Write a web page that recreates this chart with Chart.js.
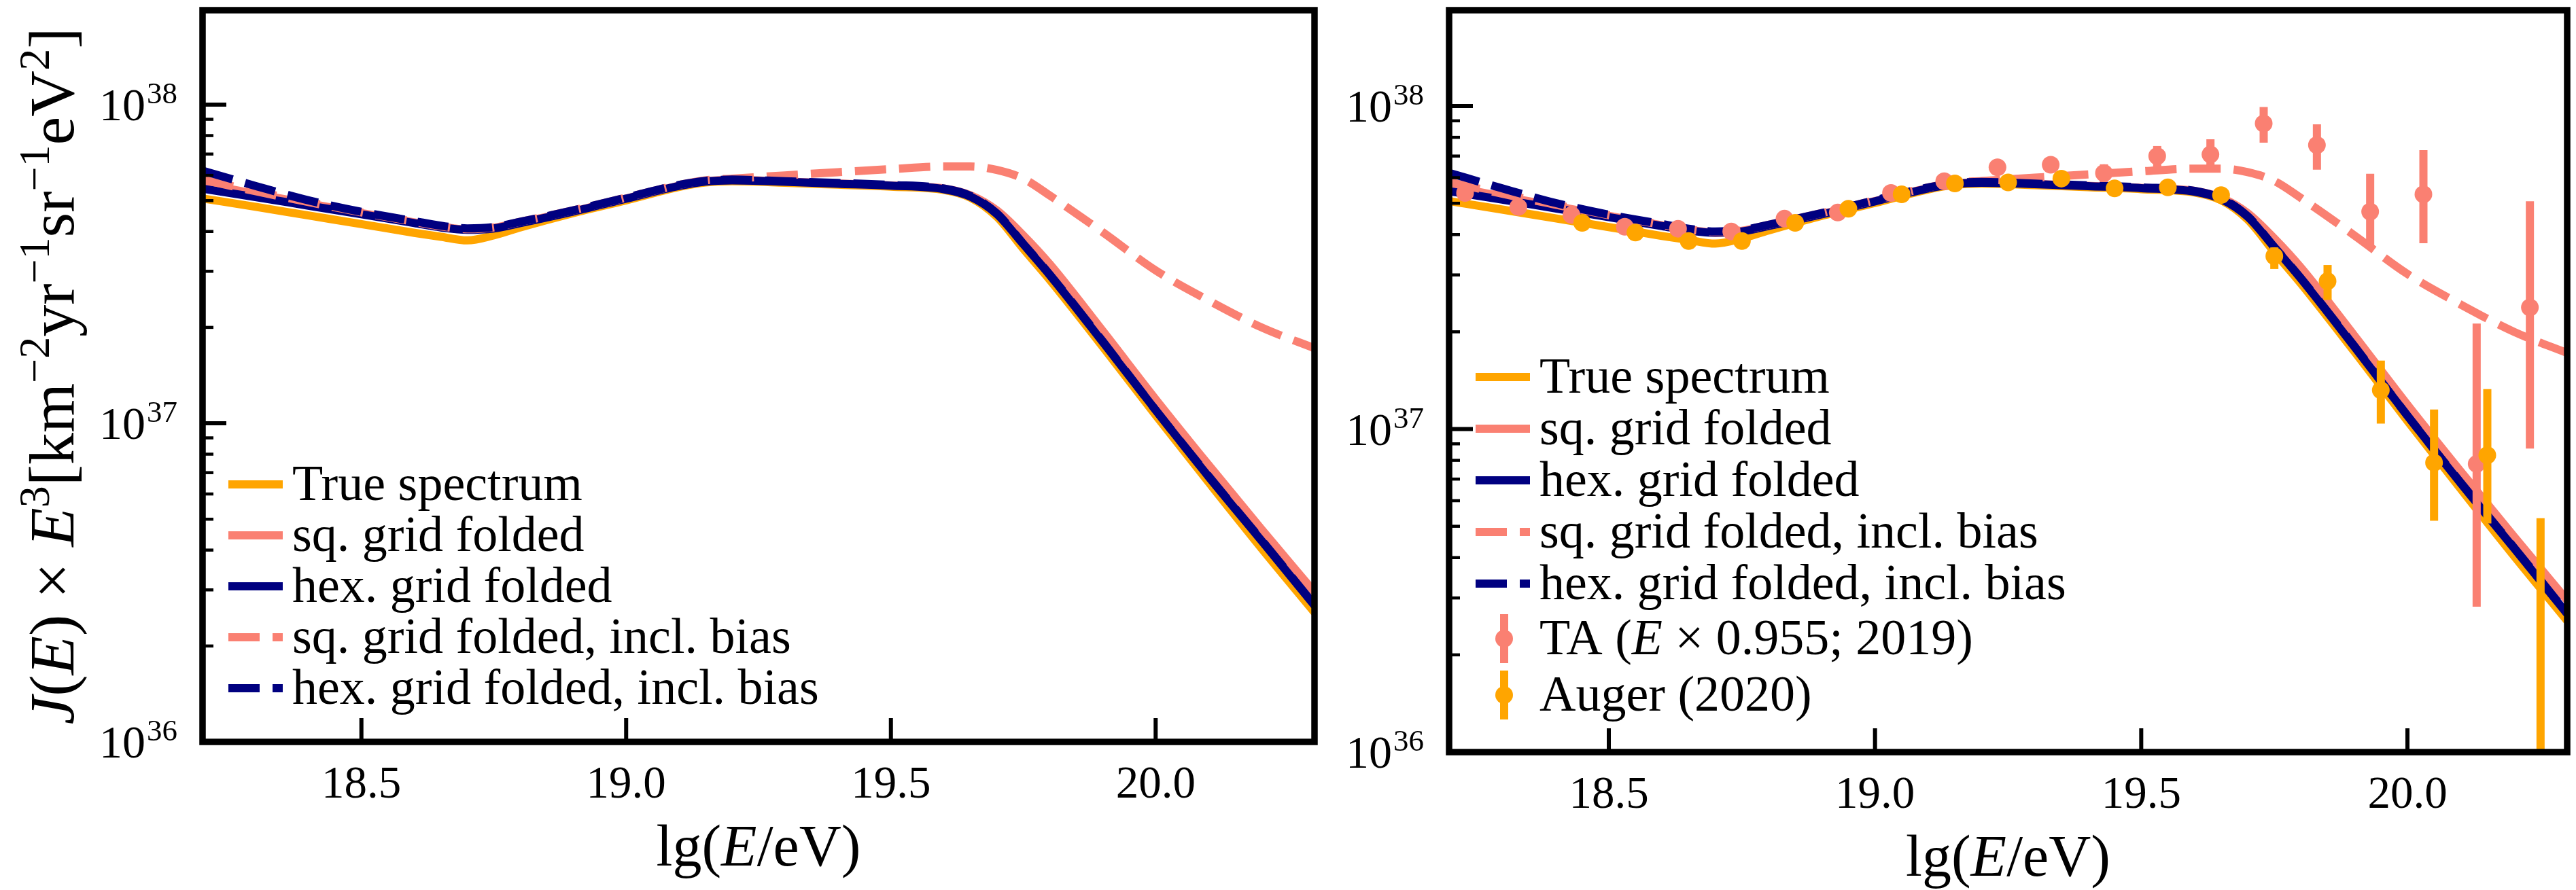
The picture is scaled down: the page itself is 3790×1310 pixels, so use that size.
<!DOCTYPE html>
<html lang="en">
<head>
<meta charset="utf-8">
<title>Espectro J(E) x E^3</title>
<script src="https://cdn.jsdelivr.net/npm/chart.js@4.4.1/dist/chart.umd.min.js"></script>
<style>
  html, body { margin: 0; padding: 0; background: #fff; }
  body { position: relative; width: 3790px; height: 1310px; overflow: hidden; }
  canvas { position: absolute; top: 0; }
  #grafIzq { left: 0; }
  #grafDer { left: 1960px; }
</style>
</head>
<body>
<canvas id="grafIzq" width="1960" height="1310"></canvas>
<canvas id="grafDer" width="1830" height="1310"></canvas>
<script>
const SERIF = '"Liberation Serif", "DejaVu Serif", serif';
const NARANJA = '#ffa500';
const SALMON = '#fa8072';
const MARINO = '#000080';

// lg(E/eV) donde se leen las curvas
const lgE = [18.2, 18.3, 18.4, 18.5, 18.6, 18.65, 18.7, 18.75, 18.8, 18.9, 19.0, 19.1, 19.15, 19.2,
             19.3, 19.4, 19.5, 19.6, 19.65, 19.7, 19.75, 19.8, 19.9, 20.0, 20.1, 20.2, 20.3];

// J(E) x E^3 en km^-2 yr^-1 sr^-1 eV^2
const espVerdadero = [5.08e37, 4.78e37, 4.49e37, 4.22e37, 3.96e37, 3.85e37, 3.75e37, 3.89e37, 4.12e37, 4.57e37,
                      5.01e37, 5.52e37, 5.70e37, 5.75e37, 5.69e37, 5.61e37, 5.53e37, 5.40e37, 5.11e37, 4.45e37,
                      3.53e37, 2.82e37, 1.74e37, 1.06e37, 6.53e36, 4.05e36, 2.55e36];
const cuadPlegado = [5.65e37, 5.25e37, 4.90e37, 4.57e37, 4.27e37, 4.14e37, 4.06e37, 4.11e37, 4.27e37, 4.63e37,
                     5.08e37, 5.57e37, 5.75e37, 5.81e37, 5.74e37, 5.66e37, 5.58e37, 5.46e37, 5.20e37, 4.66e37,
                     3.89e37, 3.16e37, 1.95e37, 1.19e37, 7.40e36, 4.65e36, 2.95e36];
const hexPlegado = [5.45e37, 5.13e37, 4.82e37, 4.53e37, 4.25e37, 4.12e37, 4.05e37, 4.09e37, 4.25e37, 4.62e37,
                    5.07e37, 5.56e37, 5.74e37, 5.79e37, 5.73e37, 5.65e37, 5.57e37, 5.43e37, 5.15e37, 4.54e37,
                    3.65e37, 2.92e37, 1.80e37, 1.10e37, 6.80e36, 4.28e36, 2.68e36];
const cuadSesgo = [5.82e37, 5.35e37, 4.95e37, 4.59e37, 4.29e37, 4.15e37, 4.07e37, 4.12e37, 4.29e37, 4.66e37,
                   5.11e37, 5.60e37, 5.79e37, 5.86e37, 6.00e37, 6.14e37, 6.28e37, 6.40e37, 6.40e37, 6.24e37,
                   5.86e37, 5.19e37, 3.98e37, 3.02e37, 2.43e37, 2.00e37, 1.72e37];
const hexSesgo = [6.21e37, 5.56e37, 5.01e37, 4.61e37, 4.31e37, 4.17e37, 4.09e37, 4.13e37, 4.29e37, 4.66e37,
                  5.11e37, 5.60e37, 5.77e37, 5.82e37, 5.75e37, 5.68e37, 5.60e37, 5.46e37, 5.18e37, 4.56e37,
                  3.66e37, 2.93e37, 1.81e37, 1.10e37, 6.83e36, 4.30e36, 2.69e36];

// TA (E x 0.955; 2019)
const taE = [18.23, 18.33, 18.43, 18.53, 18.63, 18.73, 18.83, 18.93, 19.03, 19.13, 19.23,
             19.33, 19.43, 19.53, 19.63, 19.73, 19.83, 19.93, 20.03, 20.13, 20.23];
const taJ = [5.38e37, 4.87e37, 4.60e37, 4.23e37, 4.17e37, 4.09e37, 4.48e37, 4.68e37, 5.38e37, 5.85e37, 6.46e37,
             6.58e37, 6.20e37, 7.00e37, 7.08e37, 8.83e37, 7.57e37, 4.71e37, 5.33e37, 7.80e36, 2.38e37];
const taBajo = [5.30e37, 4.80e37, 4.53e37, 4.16e37, 4.09e37, 4.00e37, 4.37e37, 4.55e37, 5.21e37, 5.63e37, 6.18e37,
                6.24e37, 5.82e37, 6.25e37, 6.34e37, 7.70e37, 6.35e37, 3.65e37, 3.76e37, 2.82e36, 8.70e36];
const taAlto = [5.46e37, 4.94e37, 4.67e37, 4.30e37, 4.25e37, 4.18e37, 4.59e37, 4.81e37, 5.55e37, 6.07e37, 6.75e37,
                6.93e37, 6.60e37, 7.52e37, 7.89e37, 9.93e37, 8.78e37, 6.17e37, 7.30e37, 2.12e37, 5.07e37];

// Auger (2020)
const auE = [18.45, 18.55, 18.65, 18.75, 18.85, 18.95, 19.05, 19.15, 19.25, 19.35,
             19.45, 19.55, 19.65, 19.75, 19.85, 19.95, 20.05, 20.15, 20.25];
const auJ = [4.35e37, 4.06e37, 3.82e37, 3.82e37, 4.35e37, 4.81e37, 5.33e37, 5.76e37, 5.80e37, 5.96e37,
             5.56e37, 5.60e37, 5.30e37, 3.43e37, 2.87e37, 1.32e37, 7.87e36, 8.30e36, 6.0e35];
const auBajo = [4.32e37, 4.03e37, 3.79e37, 3.79e37, 4.31e37, 4.76e37, 5.27e37, 5.69e37, 5.71e37, 5.85e37,
                5.43e37, 5.44e37, 5.10e37, 3.13e37, 2.51e37, 1.04e37, 5.20e36, 5.10e36, 1.0e35];
const auAlto = [4.38e37, 4.09e37, 3.85e37, 3.85e37, 4.39e37, 4.86e37, 5.39e37, 5.83e37, 5.89e37, 6.07e37,
                5.69e37, 5.76e37, 5.50e37, 3.65e37, 3.22e37, 1.63e37, 1.15e37, 1.33e37, 5.30e36];

// marcas de los ejes
const ticksX = [18.5, 19.0, 19.5, 20.0];
const decadasY = [1e36, 1e37, 1e38];
const expY = ['36', '37', '38'];
const menoresY = [2e36, 3e36, 4e36, 5e36, 6e36, 7e36, 8e36, 9e36,
                  2e37, 3e37, 4e37, 5e37, 6e37, 7e37, 8e37, 9e37];

// textos con cursiva / superindice
const tituloX = [{ t: 'lg(' }, { t: 'E', it: true }, { t: '/eV)' }];
const tituloY = [{ t: 'J', it: true }, { t: '(' }, { t: 'E', it: true }, { t: ')' }, { t: ' × ' },
                 { t: 'E', it: true }, { t: '3', sup: true }, { t: '[km' }, { t: '−2', sup: true },
                 { t: 'yr' }, { t: '−1', sup: true }, { t: 'sr' }, { t: '−1', sup: true },
                 { t: 'eV' }, { t: '2', sup: true }, { t: ']' }];

const pares = (xs, ys) => xs.map((x, i) => ({ x, y: ys[i] }));

function fuente(p, tam) {
  const s = p.sup ? Math.round(tam * 0.68) : tam;
  return (p.it ? 'italic ' : '') + s + 'px ' + SERIF;
}

function anchoRico(ctx, partes, tam) {
  let w = 0;
  partes.forEach(p => { ctx.font = fuente(p, tam); w += ctx.measureText(p.t).width; });
  return w;
}

function textoRico(ctx, partes, x, y, tam) {
  partes.forEach(p => {
    ctx.font = fuente(p, tam);
    ctx.fillText(p.t, x, p.sup ? y - tam * 0.38 : y);
    x += ctx.measureText(p.t).width;
  });
}

function curva(etiqueta, valores, color, discontinua, orden) {
  return {
    label: etiqueta,
    rotulo: [{ t: etiqueta }],
    data: pares(lgE, valores),
    borderColor: color,
    backgroundColor: color,
    borderWidth: 12,
    borderDash: discontinua ? [46, 19] : [],
    borderJoinStyle: 'round',
    cubicInterpolationMode: 'monotone',
    pointRadius: 0,
    fill: false,
    order: orden,
    clip: 0
  };
}

function puntos(etiqueta, rotulo, xs, ys, bajo, alto, color, orden) {
  return {
    label: etiqueta,
    rotulo: rotulo,
    data: pares(xs, ys),
    showLine: false,
    pointRadius: 13,
    pointBorderWidth: 0,
    pointBackgroundColor: color,
    pointBorderColor: color,
    borderColor: color,
    errBajo: bajo,
    errAlto: alto,
    order: orden,
    clip: 0
  };
}

function curvas() {
  return [
    curva('True spectrum', espVerdadero, NARANJA, false, 7),
    curva('sq. grid folded', cuadPlegado, SALMON, false, 6),
    curva('hex. grid folded', hexPlegado, MARINO, false, 5),
    curva('sq. grid folded, incl. bias', cuadSesgo, SALMON, true, 4),
    curva('hex. grid folded, incl. bias', hexSesgo, MARINO, true, 3)
  ];
}

// marco, marcas hacia dentro, etiquetas 10^n, titulos, leyenda y barras de error
const marco = {
  id: 'marco',
  beforeDatasetDraw(chart, args) {
    const ds = chart.data.datasets[args.index];
    if (!ds.errBajo) return;
    const { ctx, chartArea: a, scales: { x, y } } = chart;
    ctx.save();
    ctx.beginPath();
    ctx.rect(a.left, a.top, a.right - a.left, a.bottom - a.top);
    ctx.clip();
    ctx.strokeStyle = ds.pointBackgroundColor;
    ctx.lineWidth = 12;
    ds.data.forEach((p, i) => {
      const px = x.getPixelForValue(p.x);
      ctx.beginPath();
      ctx.moveTo(px, y.getPixelForValue(ds.errBajo[i]));
      ctx.lineTo(px, y.getPixelForValue(ds.errAlto[i]));
      ctx.stroke();
    });
    ctx.restore();
  },
  afterDraw(chart, args, o) {
    const { ctx, chartArea: a, scales: { x, y } } = chart;
    const raya = (x0, y0, x1, y1) => {
      ctx.beginPath(); ctx.moveTo(x0, y0); ctx.lineTo(x1, y1); ctx.stroke();
    };
    ctx.save();
    ctx.strokeStyle = '#000';
    ctx.fillStyle = '#000';
    ctx.lineCap = 'butt';

    ctx.lineWidth = 4.5;
    menoresY.forEach(v => { const py = y.getPixelForValue(v); raya(a.left, py, a.left + 16, py); });
    ctx.lineWidth = 6;
    decadasY.forEach(v => { const py = y.getPixelForValue(v); raya(a.left, py, a.left + 35, py); });
    ticksX.forEach(v => { const px = x.getPixelForValue(v); raya(px, a.bottom, px, a.bottom - 35); });

    ctx.lineWidth = 9.5;
    ctx.lineJoin = 'miter';
    ctx.strokeRect(a.left, a.top, a.right - a.left, a.bottom - a.top);

    // 10^36, 10^37, 10^38
    ctx.textAlign = 'left';
    ctx.textBaseline = 'alphabetic';
    decadasY.forEach((v, i) => {
      const py = y.getPixelForValue(v);
      ctx.font = '45px ' + SERIF;
      const wSup = ctx.measureText(expY[i]).width;
      ctx.font = '68px ' + SERIF;
      const wBase = ctx.measureText('10').width;
      const x0 = a.left - 37 - wSup - wBase - 2;
      ctx.fillText('10', x0, py + 23);
      ctx.font = '45px ' + SERIF;
      ctx.fillText(expY[i], x0 + wBase + 2, py - 2);
    });

    const wx = anchoRico(ctx, tituloX, 86);
    textoRico(ctx, tituloX, (a.left + a.right) / 2 - wx / 2, a.bottom + 182, 86);

    if (o.tituloY) {
      const wy = anchoRico(ctx, tituloY, 94);
      ctx.save();
      ctx.translate(o.tituloYx, (a.top + a.bottom) / 2);
      ctx.rotate(-Math.PI / 2);
      textoRico(ctx, tituloY, -wy / 2, 0, 94);
      ctx.restore();
    }

    // leyenda sin marco
    const hx = a.left + o.leyX;
    chart.data.datasets.forEach((ds, i) => {
      const fy = o.filas[i];
      if (ds.showLine === false) {
        ctx.strokeStyle = ds.pointBackgroundColor;
        ctx.fillStyle = ds.pointBackgroundColor;
        ctx.lineWidth = 12;
        ctx.setLineDash([]);
        raya(hx + 42, fy - 36, hx + 42, fy + 36);
        ctx.beginPath();
        ctx.arc(hx + 42, fy, 13, 0, Math.PI * 2);
        ctx.fill();
      } else {
        ctx.strokeStyle = ds.borderColor;
        ctx.lineWidth = ds.borderWidth;
        ctx.setLineDash(ds.borderDash);
        raya(hx, fy, hx + 80, fy);
        ctx.setLineDash([]);
      }
      ctx.fillStyle = '#000';
      textoRico(ctx, ds.rotulo, hx + 94, fy + 23, 74);
    });
    ctx.restore();
  }
};

function opciones(cfg) {
  return {
    responsive: false,
    animation: false,
    events: [],
    layout: { padding: { top: cfg.arriba, right: cfg.derecha, left: 0, bottom: 0 } },
    plugins: { legend: { display: false }, tooltip: { enabled: false }, marco: cfg },
    scales: {
      x: {
        type: 'linear', min: 18.2, max: 20.3,
        afterBuildTicks: s => { s.ticks = ticksX.map(v => ({ value: v })); },
        afterFit: s => { s.height = cfg.altoX; },
        grid: { display: false, drawTicks: false },
        border: { display: false },
        ticks: {
          color: '#000', padding: 24, maxRotation: 0, autoSkip: false,
          font: { family: SERIF, size: 67 },
          callback: v => Number(v).toFixed(1)
        }
      },
      y: {
        type: 'logarithmic', min: 1e36, max: 1.98e38,
        afterFit: s => { s.width = cfg.anchoY; },
        grid: { display: false, drawTicks: false },
        border: { display: false },
        ticks: { display: false }
      }
    }
  };
}

new Chart(document.getElementById('grafIzq'), {
  type: 'line',
  data: { datasets: curvas() },
  options: opciones({
    arriba: 15, derecha: 26, altoX: 218, anchoY: 298,
    tituloY: true, tituloYx: 108,
    leyX: 38, filas: [713, 788, 863, 938, 1013]
  }),
  plugins: [marco]
});

new Chart(document.getElementById('grafDer'), {
  type: 'line',
  data: {
    datasets: curvas().concat([
      puntos('TA (E x 0.955; 2019)',
             [{ t: 'TA (' }, { t: 'E', it: true }, { t: ' × 0.955; 2019)' }],
             taE, taJ, taBajo, taAlto, SALMON, 2),
      puntos('Auger (2020)', [{ t: 'Auger (2020)' }], auE, auJ, auBajo, auAlto, NARANJA, 1)
    ])
  },
  options: opciones({
    arriba: 15, derecha: 3, altoX: 203, anchoY: 172,
    tituloY: false,
    leyX: 39, filas: [555, 631, 707, 783, 859, 940, 1023]
  }),
  plugins: [marco]
});
</script>
</body>
</html>
